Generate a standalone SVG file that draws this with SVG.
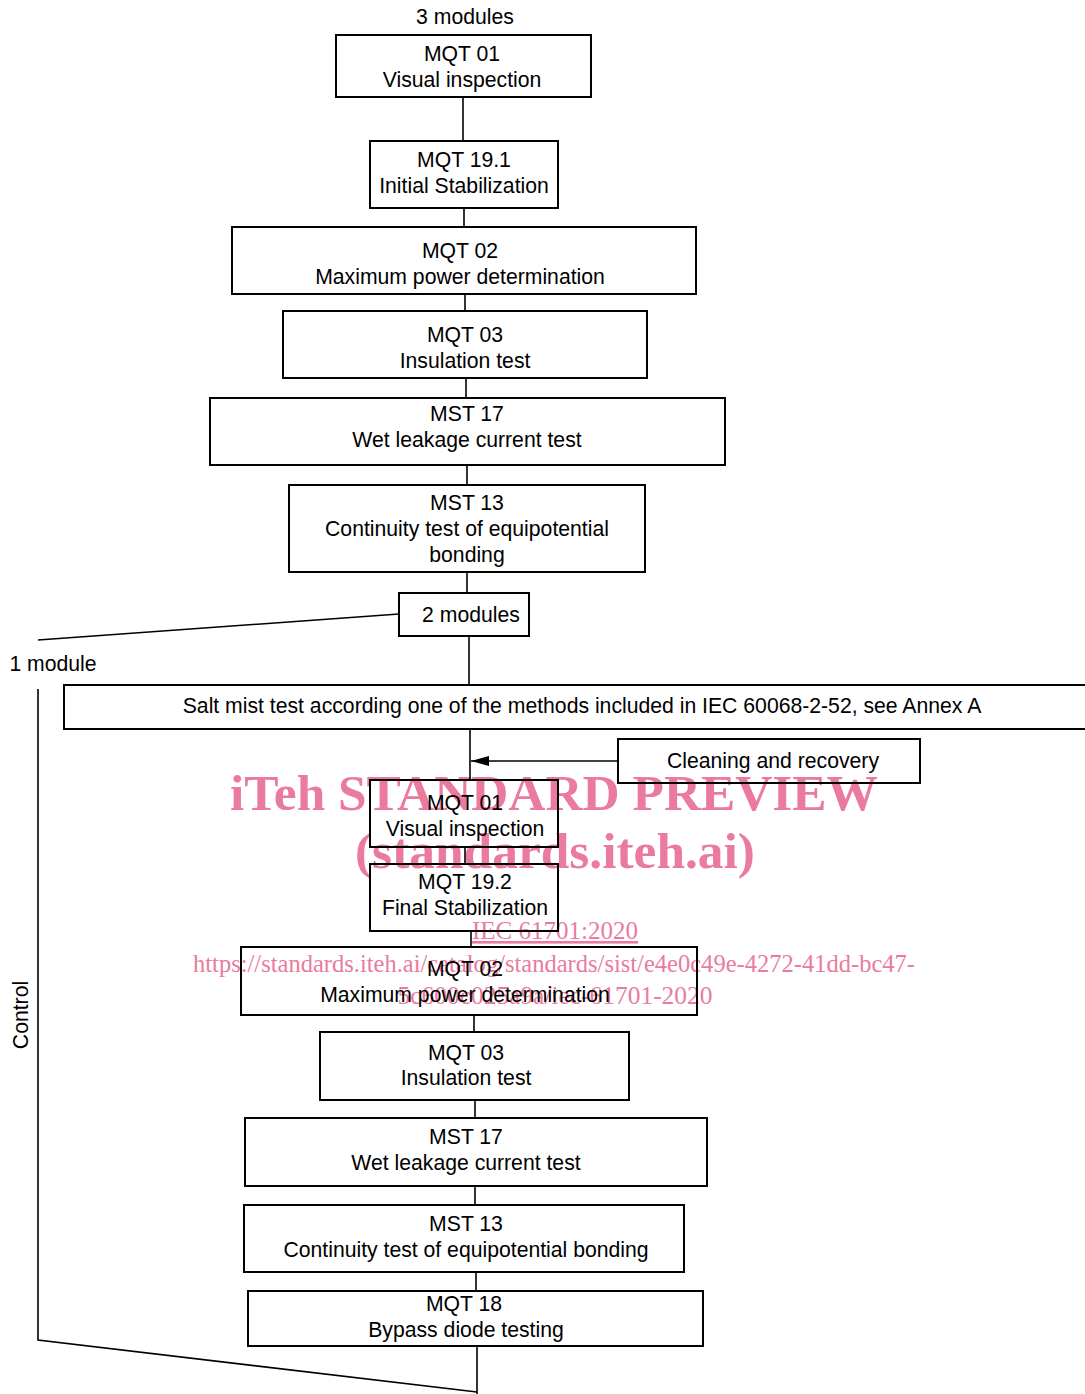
<svg xmlns="http://www.w3.org/2000/svg" width="1085" height="1394" viewBox="0 0 1085 1394">
<style>
.b{fill:none;stroke:#000;stroke-width:2}
.c{fill:none;stroke:#000;stroke-width:1.6}
.t{font-family:"Liberation Sans",Arial,sans-serif;font-size:21.2px;fill:#000;text-anchor:middle}
.w{font-family:"Liberation Serif","Times New Roman",serif;fill:#ea7b9e;text-anchor:middle}
</style>
<defs>
<marker id="ah" viewBox="0 0 18 12" refX="18" refY="6" markerWidth="18" markerHeight="12" markerUnits="userSpaceOnUse" orient="auto">
<path d="M0,1 L18,6 L0,11 Z" fill="#000"/>
</marker>
</defs>
<rect width="1085" height="1394" fill="#fff"/>
<g id="watermark">
<text class="w" x="554" y="810" font-size="50" font-weight="bold" textLength="648" lengthAdjust="spacingAndGlyphs">iTeh STANDARD PREVIEW</text>
<text class="w" x="555" y="868" font-size="50" font-weight="bold" textLength="400" lengthAdjust="spacingAndGlyphs">(standards.iteh.ai)</text>
<text class="w" x="555" y="939" font-size="26" text-decoration="underline" textLength="166" lengthAdjust="spacingAndGlyphs">IEC 61701:2020</text>
<text class="w" x="554" y="972" font-size="26" textLength="722" lengthAdjust="spacingAndGlyphs">https://standards.iteh.ai/catalog/standards/sist/e4e0c49e-4272-41dd-bc47-</text>
<text class="w" x="555" y="1004" font-size="26" textLength="315" lengthAdjust="spacingAndGlyphs">5c600c025a9a/iec-61701-2020</text>
</g>
<g id="connectors">
<line class="c" x1="463" y1="97" x2="463" y2="141"/>
<line class="c" x1="464" y1="208" x2="464" y2="227"/>
<line class="c" x1="465" y1="294" x2="465" y2="311"/>
<line class="c" x1="466" y1="378" x2="466" y2="398"/>
<line class="c" x1="467" y1="465" x2="467" y2="485"/>
<line class="c" x1="467" y1="572" x2="467" y2="593"/>
<line class="c" x1="399" y1="614" x2="38" y2="640"/>
<line class="c" x1="469" y1="636" x2="469" y2="685"/>
<line class="c" x1="470" y1="729" x2="470" y2="780"/>
<line class="c" x1="618" y1="761" x2="471" y2="761" marker-end="url(#ah)"/>
<line class="c" x1="465" y1="847" x2="465" y2="864"/>
<line class="c" x1="471" y1="931" x2="471" y2="947"/>
<line class="c" x1="474" y1="1015" x2="474" y2="1032"/>
<line class="c" x1="475" y1="1100" x2="475" y2="1118"/>
<line class="c" x1="475" y1="1186" x2="475" y2="1205"/>
<line class="c" x1="476" y1="1272" x2="476" y2="1291"/>
<line class="c" x1="477" y1="1346" x2="477" y2="1394"/>
<polyline class="c" points="38,689 38,1340 477,1392"/>
</g>
<g id="labels">
<text class="t" x="465" y="24">3 modules</text>
<text class="t" x="53" y="671">1 module</text>
<text class="t" transform="translate(28,1015) rotate(-90)">Control</text>
</g>
<g id="n1"><rect class="b" x="336" y="35" width="255" height="62"/><text class="t" x="462" y="61">MQT 01</text><text class="t" x="462" y="87">Visual inspection</text></g>
<g id="n2"><rect class="b" x="370" y="141" width="188" height="67"/><text class="t" x="464" y="167">MQT 19.1</text><text class="t" x="464" y="193">Initial Stabilization</text></g>
<g id="n3"><rect class="b" x="232" y="227" width="464" height="67"/><text class="t" x="460" y="258">MQT 02</text><text class="t" x="460" y="284">Maximum power determination</text></g>
<g id="n4"><rect class="b" x="283" y="311" width="364" height="67"/><text class="t" x="465" y="342">MQT 03</text><text class="t" x="465" y="368">Insulation test</text></g>
<g id="n5"><rect class="b" x="210" y="398" width="515" height="67"/><text class="t" x="467" y="421">MST 17</text><text class="t" x="467" y="447">Wet leakage current test</text></g>
<g id="n6"><rect class="b" x="289" y="485" width="356" height="87"/><text class="t" x="467" y="510">MST 13</text><text class="t" x="467" y="536">Continuity test of equipotential</text><text class="t" x="467" y="562">bonding</text></g>
<g id="n7"><rect class="b" x="399" y="593" width="130" height="43"/><text class="t" x="471" y="622">2 modules</text></g>
<g id="n8"><rect class="b" x="64" y="685" width="1030" height="44"/><text class="t" x="582" y="713">Salt mist test according one of the methods included in IEC 60068-2-52, see Annex A</text></g>
<g id="n9"><rect class="b" x="618" y="739" width="302" height="44"/><text class="t" x="773" y="768">Cleaning and recovery</text></g>
<g id="n10"><rect class="b" x="370" y="780" width="188" height="67"/><text class="t" x="465" y="810">MQT 01</text><text class="t" x="465" y="836">Visual inspection</text></g>
<g id="n11"><rect class="b" x="370" y="864" width="188" height="67"/><text class="t" x="465" y="889">MQT 19.2</text><text class="t" x="465" y="915">Final Stabilization</text></g>
<g id="n12"><rect class="b" x="241" y="947" width="456" height="68"/><text class="t" x="465" y="976">MQT 02</text><text class="t" x="465" y="1002">Maximum power determination</text></g>
<g id="n13"><rect class="b" x="320" y="1032" width="309" height="68"/><text class="t" x="466" y="1060">MQT 03</text><text class="t" x="466" y="1085">Insulation test</text></g>
<g id="n14"><rect class="b" x="245" y="1118" width="462" height="68"/><text class="t" x="466" y="1144">MST 17</text><text class="t" x="466" y="1170">Wet leakage current test</text></g>
<g id="n15"><rect class="b" x="244" y="1205" width="440" height="67"/><text class="t" x="466" y="1231">MST 13</text><text class="t" x="466" y="1257">Continuity test of equipotential bonding</text></g>
<g id="n16"><rect class="b" x="248" y="1291" width="455" height="55"/><text class="t" x="464" y="1311">MQT 18</text><text class="t" x="466" y="1337">Bypass diode testing</text></g>
</svg>
